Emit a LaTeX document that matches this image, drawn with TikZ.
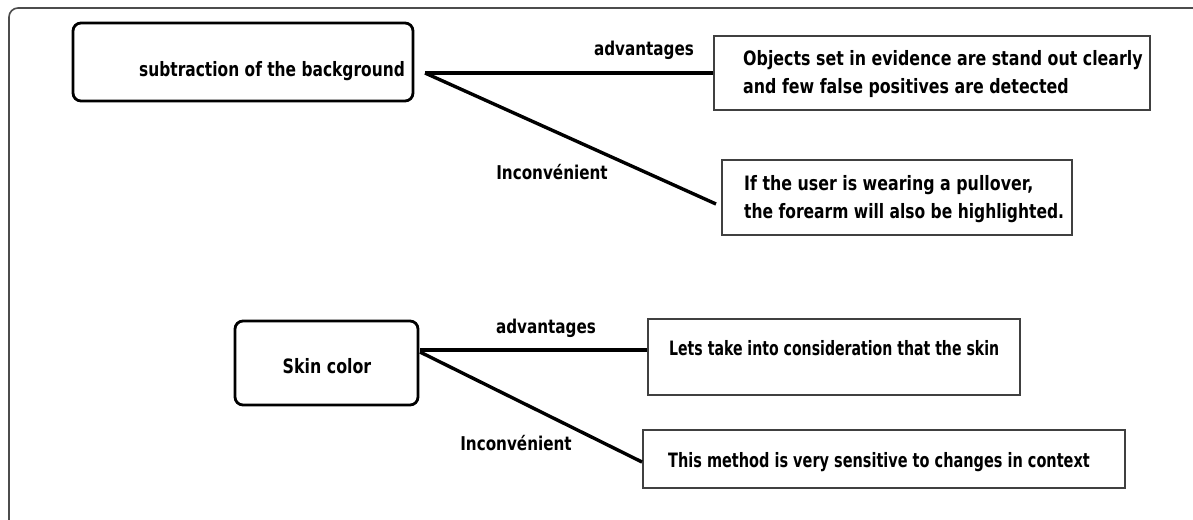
\documentclass[tikz,border=0pt]{standalone}
\usepackage{fontspec}
\setmainfont{DejaVu Sans}[FakeStretch=0.8]
\begin{document}
\begin{tikzpicture}[x=1pt,y=-1pt,
  txt/.style={font=\fontsize{19.8}{28}\selectfont\bfseries, text=black, inner sep=0pt, align=left},
  topic/.style={draw=black, line width=2.8pt, rounded corners=8pt, inner sep=0pt},
  note/.style={draw=black!75, line width=2pt, inner sep=0pt},
  link/.style={draw=black, line width=3.4pt},
  lbl/.style={font=\fontsize{19}{20}\selectfont\bfseries, inner sep=0pt}]
\useasboundingbox (0,0) rectangle (1193,519);
% outer frame, only its top and left sides fall inside the page
\draw[black!70, line width=1.6pt, rounded corners=9pt] (1193,8) -- (9,8) -- (9,530);

% first topic
\node[topic, minimum width=340pt, minimum height=78pt] (bg) at (243,62) {};
\node[txt, anchor=east] (bgtxt) at (405,71) {\scalebox{0.975}[1]{subtraction of the background}};

\node[note, minimum width=436pt, minimum height=74pt] (adv1) at (932,73) {};
\node[txt, anchor=west] (adv1txt) at (743,74)
  {Objects set in evidence are stand out clearly\\and few false positives are detected};

\node[note, minimum width=350pt, minimum height=75pt] (inc1) at (897,197.5) {};
\node[txt, anchor=west] (inc1txt) at (744,199)
  {If the user is wearing a pullover,\\\scalebox{0.98}[1]{the forearm will also be highlighted.}};

\coordinate (s1) at (425,73);
\coordinate (e1) at (716,204);
\draw[link] (s1) -- (adv1.west |- s1);
\draw[link] (s1) -- (e1);
\node[lbl] (a1) at (644,50) {advantages};
\node[lbl] (i1) at (552,172) {Inconvénient};

% second topic
\node[topic, minimum width=183pt, minimum height=84pt] (skin) at (326.5,363) {};
\node[txt] (skintxt) at (327,366) {Skin color};

\node[note, minimum width=372pt, minimum height=76pt] (adv2) at (834,357) {};
\node[txt, anchor=west] (adv2txt) at (669,348)
  {\scalebox{0.89}[1]{Lets take into consideration that the skin}};

\node[note, minimum width=482pt, minimum height=58pt] (inc2) at (884,459) {};
\node[txt, anchor=west] (inc2txt) at (668,462)
  {\scalebox{0.915}[1]{This method is very sensitive to changes in context}};

\coordinate (s2) at (420,350);
\coordinate (t2) at (420,352);
\draw[link] (s2) -- (adv2.west |- s2);
\draw[link] (t2) -- (inc2.west |- 0,462);
\node[lbl] (a2) at (546,328) {advantages};
\node[lbl] (i2) at (516,443) {Inconvénient};
\end{tikzpicture}
\end{document}
